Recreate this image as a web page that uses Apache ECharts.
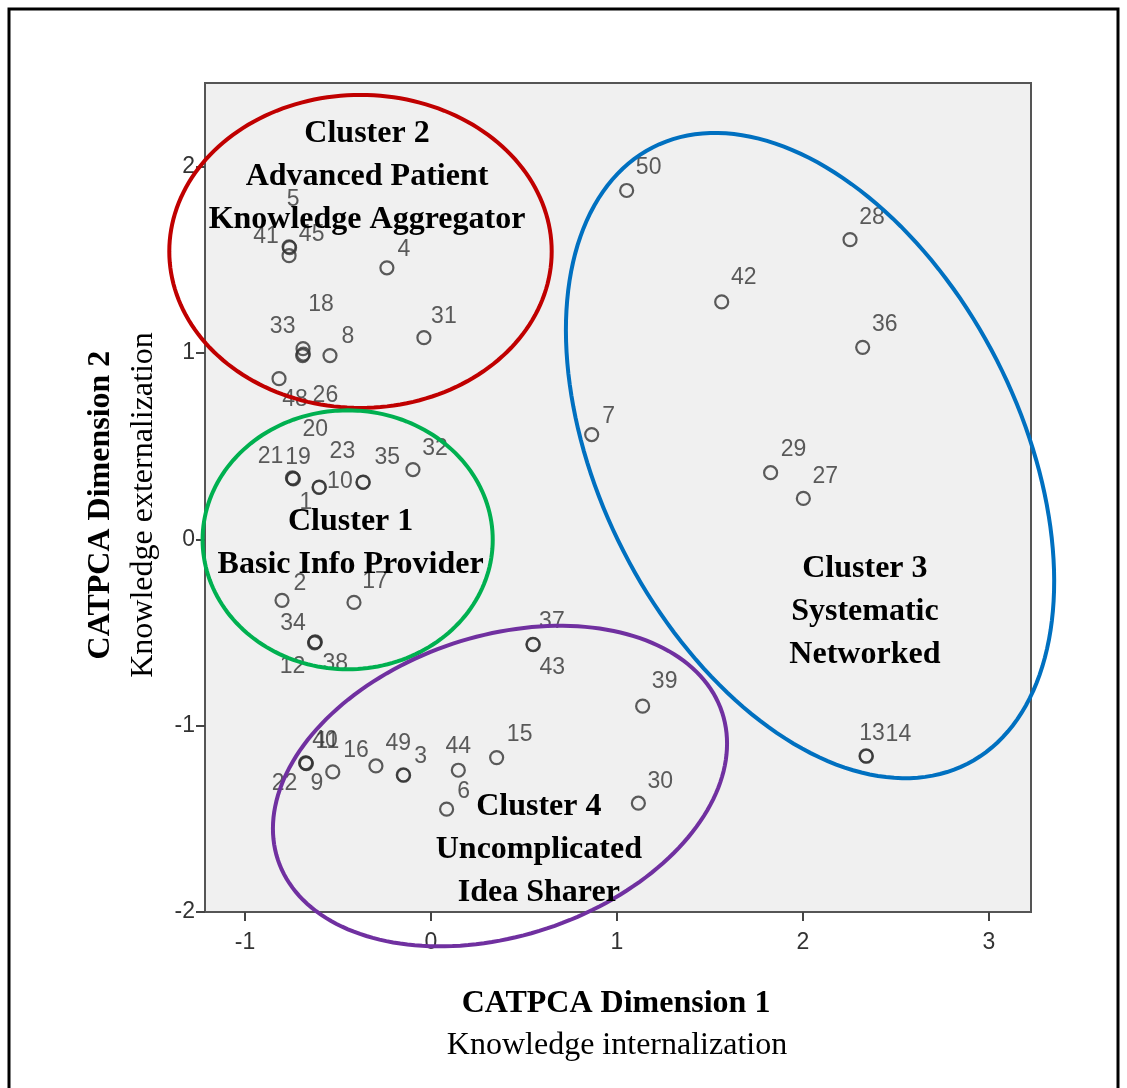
<!DOCTYPE html>
<html>
<head>
<meta charset="utf-8">
<script src="https://cdn.jsdelivr.net/npm/echarts@6/dist/echarts.min.js"></script>
<style>
html,body{margin:0;padding:0;background:#fff;}
#chart{width:1127px;height:1088px;}
</style>
</head>
<body>
<div id="chart"></div>
<script>
// ---- Data (CATPCA object scores) ----
const pointIds = [5, 45, 41, 4, 18, 33, 26, 8, 31, 48,
  20, 21, 19, 1, 23, 10, 35, 32, 2, 17, 34, 12, 38,
  37, 43, 39, 15, 44, 6, 49, 3, 16, 9, 40, 11, 22, 30,
  50, 28, 42, 36, 7, 29, 27, 13, 14];
const dim1 = [-0.763, -0.760, -0.763, -0.237, -0.688, -0.690, -0.686, -0.543, -0.038, -0.817,
  -0.740, -0.745, -0.742, -0.602, -0.600, -0.366, -0.364, -0.097, -0.801, -0.414, -0.624, -0.626, -0.622,
  0.548, 0.550, 1.138, 0.353, 0.147, 0.084, -0.149, -0.147, -0.296, -0.528, -0.672, -0.670, -0.674, 1.115,
  1.052, 2.253, 1.563, 2.321, 0.864, 1.826, 2.002, 2.339, 2.341];
const dim2 = [1.571, 1.566, 1.523, 1.458, 1.024, 0.987, 0.995, 0.987, 1.083, 0.863,
  0.325, 0.330, 0.327, 0.279, 0.281, 0.306, 0.308, 0.375, -0.327, -0.338, -0.552, -0.555, -0.550,
  -0.563, -0.565, -0.895, -1.171, -1.239, -1.448, -1.264, -1.266, -1.216, -1.248, -1.201, -1.203, -1.199, -1.416,
  1.873, 1.609, 1.275, 1.031, 0.563, 0.358, 0.220, -1.162, -1.164];

const xTicks = [-1, 0, 1, 2, 3];
const yTicks = [-2, -1, 0, 1, 2];

// Cluster annotations: name lines, ellipse centre (data units), semi-axes, rotation (deg)
const clusterNames = [
  'Cluster 2\nAdvanced Patient\nKnowledge Aggregator',
  'Cluster 1\nBasic Info Provider',
  'Cluster 3\nSystematic\nNetworked',
  'Cluster 4\nUncomplicated\nIdea Sharer'
];
const clusterTextAt = [[-0.344, 1.945], [-0.432, -0.021], [2.333, -0.386], [0.580, -1.668]];
const ellipseCenter = [[-0.379, 1.546], [-0.448, -0.002], [2.038, 0.450], [0.371, -1.324]];
const ellipseAxes = [[1.028, 0.840], [0.780, 0.695], [1.858, 1.127], [1.258, 0.805]];
const ellipseAngle = [0, 0, -62.9, 18.3];
const ellipseColors = ['#C00000', '#00B050', '#0070C0', '#7030A0'];

// ---- Layout only: label offsets (px) of point-id labels relative to the marker ----
const labelOffsets = {
  5:[4,-47], 45:[22,-13], 41:[-23,-19], 4:[17,-18], 18:[18,-44], 33:[-20,-29], 26:[22,42], 8:[18,-19], 31:[20,-21], 48:[16,21],
  20:[22,-49], 21:[-22,-21], 19:[5,-21], 1:[-13,15], 23:[23,-35], 10:[-23,-1], 35:[24,-24], 32:[22,-21], 2:[18,-17], 17:[21,-21],
  34:[-22,-19], 12:[-22,24], 38:[20,22],
  37:[19,-23], 43:[19,23], 39:[22,-24], 15:[23,-23], 44:[0,-24], 6:[17,-18], 49:[-5,-31], 3:[17,-19], 16:[-20,-15], 9:[-16,12],
  40:[19,-22], 11:[21,-22], 22:[-21,21], 30:[22,-22],
  50:[22,-23], 28:[22,-22], 42:[22,-24], 36:[22,-23], 7:[17,-18], 29:[23,-23], 27:[22,-22], 13:[6,-22], 14:[32,-22]
};

const pointData = pointIds.map((id, i) => ({
  value: [dim1[i], dim2[i]],
  name: String(id),
  label: { offset: labelOffsets[id] || [20, -22] }
}));

const chart = echarts.init(document.getElementById('chart'), null, { renderer: 'canvas' });

const serif = '"Liberation Serif","Times New Roman",serif';
const sans = '"Liberation Sans",Arial,sans-serif';

chart.setOption({
  animation: false,
  backgroundColor: '#ffffff',
  grid: {
    left: 205, top: 83, width: 826, height: 829,
    show: true, backgroundColor: '#f0f0f0', borderColor: '#555555', borderWidth: 2,
    containLabel: false, outerBoundsMode: 'none'
  },
  xAxis: {
    type: 'value', min: -1.215, max: 3.226,
    axisLine: { show: true, onZero: false, lineStyle: { color: '#555555', width: 2 } },
    axisTick: { show: true, customValues: xTicks, length: 9, lineStyle: { color: '#444444', width: 2 } },
    axisLabel: { customValues: xTicks, margin: 19, fontFamily: sans, fontSize: 23, color: '#333333',
      formatter: v => String(v) },
    splitLine: { show: false }
  },
  yAxis: {
    type: 'value', min: -2, max: 2.45,
    axisLine: { show: true, onZero: false, lineStyle: { color: '#555555', width: 2 } },
    axisTick: { show: true, customValues: yTicks, length: 9, lineStyle: { color: '#444444', width: 2 } },
    axisLabel: { customValues: yTicks, margin: 10, fontFamily: sans, fontSize: 23, color: '#333333',
      formatter: v => String(v) },
    splitLine: { show: false }
  },
  series: [
    {
      type: 'scatter',
      z: 2,
      symbol: 'circle',
      symbolSize: 13,
      itemStyle: { color: 'rgba(0,0,0,0)', borderColor: '#333333', borderWidth: 2.2 },
      label: {
        show: true, position: 'inside', formatter: p => p.name,
        fontFamily: sans, fontSize: 23, color: '#333333'
      },
      data: pointData
    },
    {
      type: 'custom',
      z: 3,
      clip: false,
      silent: true,
      data: ellipseCenter,
      encode: { x: 0, y: 1 },
      renderItem: function (params, api) {
        const i = params.dataIndex;
        const c = ellipseCenter[i], ax = ellipseAxes[i], ang = ellipseAngle[i] * Math.PI / 180;
        const pts = [];
        for (let k = 0; k < 180; k++) {
          const t = k / 180 * Math.PI * 2;
          const ux = ax[0] * Math.cos(t), uy = ax[1] * Math.sin(t);
          const dx = ux * Math.cos(ang) - uy * Math.sin(ang);
          const dy = ux * Math.sin(ang) + uy * Math.cos(ang);
          pts.push(api.coord([c[0] + dx, c[1] + dy]));
        }
        return {
          type: 'polygon',
          shape: { points: pts },
          style: { fill: 'none', stroke: ellipseColors[i], lineWidth: 4 }
        };
      }
    },
    {
      type: 'custom',
      z: 4,
      clip: false,
      silent: true,
      data: clusterTextAt,
      encode: { x: 0, y: 1 },
      renderItem: function (params, api) {
        const i = params.dataIndex;
        const p = api.coord(clusterTextAt[i]);
        return {
          type: 'text',
          x: p[0], y: p[1],
          style: {
            text: clusterNames[i],
            font: 'bold 32px ' + serif,
            fill: '#000000',
            align: 'center', verticalAlign: 'middle',
            lineHeight: 43
          }
        };
      }
    }
  ],
  graphic: [
    { type: 'rect', z: 100, shape: { x: 9, y: 9, width: 1109, height: 1100 },
      style: { fill: 'none', stroke: '#000', lineWidth: 3 } },
    { type: 'text', x: 616, y: 1004, style: { text: 'CATPCA Dimension 1', font: 'bold 32px ' + serif, fill: '#000', align: 'center', verticalAlign: 'middle' } },
    { type: 'text', x: 617, y: 1046, style: { text: 'Knowledge internalization', font: '32px ' + serif, fill: '#000', align: 'center', verticalAlign: 'middle' } },
    { type: 'text', x: 101, y: 505, rotation: Math.PI / 2, style: { text: 'CATPCA Dimension 2', font: 'bold 32px ' + serif, fill: '#000', align: 'center', verticalAlign: 'middle' } },
    { type: 'text', x: 144, y: 505, rotation: Math.PI / 2, style: { text: 'Knowledge externalization', font: '32px ' + serif, fill: '#000', align: 'center', verticalAlign: 'middle' } }
  ]
});
</script>
</body>
</html>
